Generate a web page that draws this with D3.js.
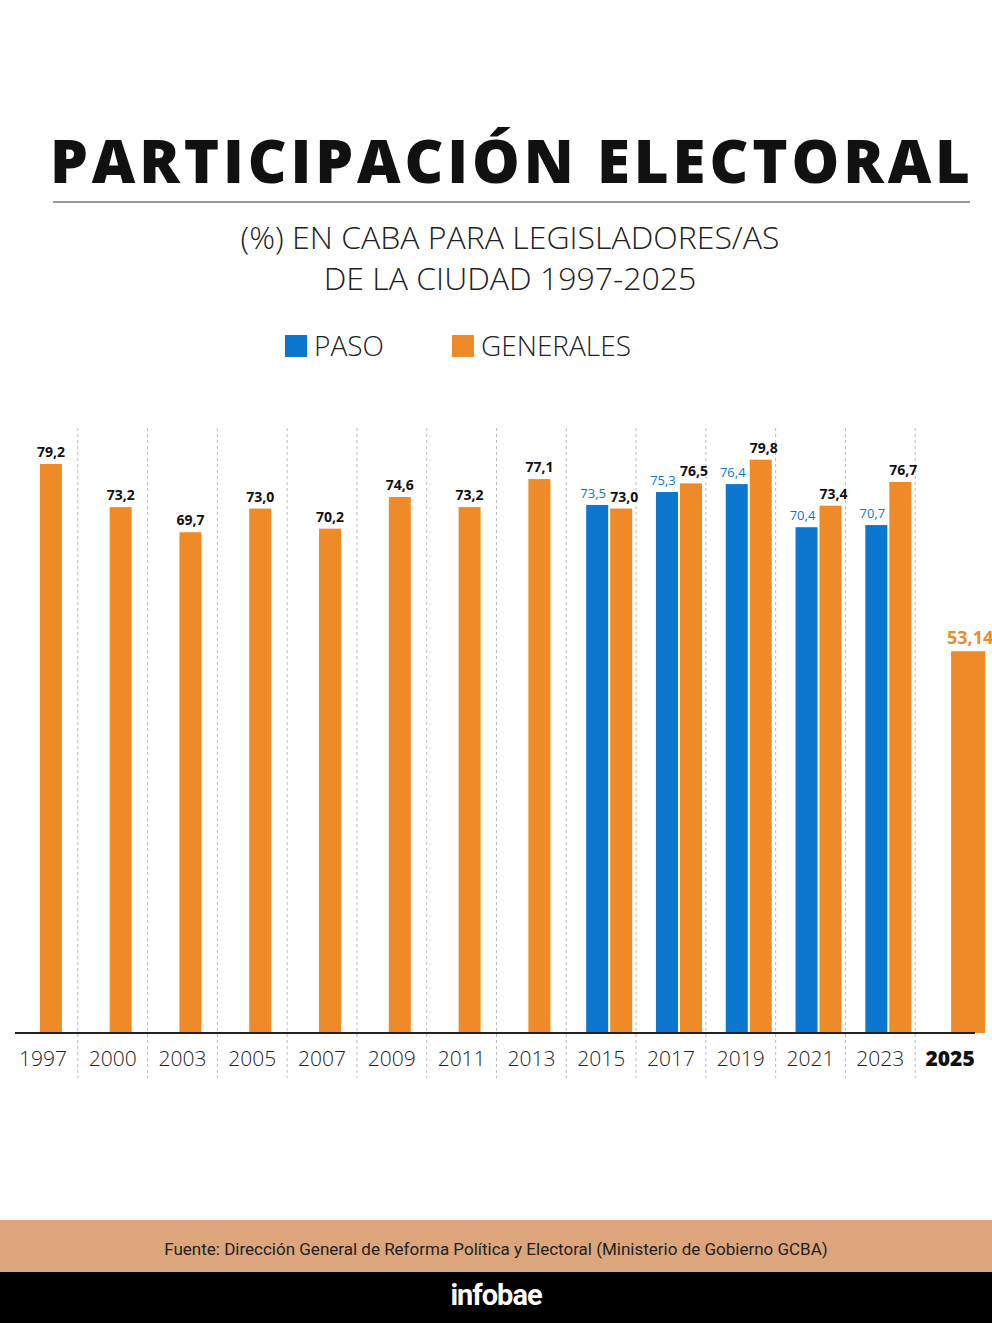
<!DOCTYPE html>
<html><head><meta charset="utf-8">
<script src="https://cdn.jsdelivr.net/npm/d3@7"></script>
<style>body{margin:0;background:#fff}</style>
</head><body>
<svg id="chart" width="992" height="1323"></svg>
<script>
var years = ["1997","2000","2003","2005","2007","2009","2011","2013","2015","2017","2019","2021","2023","2025"];
var paso = [null,null,null,null,null,null,null,null,73.5,75.3,76.4,70.4,70.7,null];
var generales = [79.2,73.2,69.7,73.0,70.2,74.6,73.2,77.1,73.0,76.5,79.8,73.4,76.7,53.14];
var genLabels = ["79,2","73,2","69,7","73,0","70,2","74,6","73,2","77,1","73,0","76,5","79,8","73,4","76,7","53,14"];
var pasoLabels = [null,null,null,null,null,null,null,null,"73,5","75,3","76,4","70,4","70,7",null];

var blue = "#0b77cf", orange = "#ee8a27";
var svg = d3.select("#chart");
var font = "'Open Sans', sans-serif";

svg.append("text").attr("x", 510).attr("y", 183).attr("text-anchor", "middle")
    .attr("font-family", font).attr("font-weight", 800).attr("font-size", 60)
    .attr("textLength", 920).attr("fill", "#111").text("PARTICIPACIÓN ELECTORAL");
svg.append("line").attr("x1", 53).attr("x2", 970).attr("y1", 202).attr("y2", 202).attr("stroke", "#333");
svg.append("text").attr("x", 510).attr("y", 249).attr("text-anchor", "middle")
    .attr("font-family", font).attr("font-weight", 300).attr("font-size", 32).attr("fill", "#222")
    .text("(%) EN CABA PARA LEGISLADORES/AS");
svg.append("text").attr("x", 510).attr("y", 290).attr("text-anchor", "middle")
    .attr("font-family", font).attr("font-weight", 300).attr("font-size", 32).attr("fill", "#222")
    .text("DE LA CIUDAD 1997-2025");

// legend
[["PASO", blue, 285], ["GENERALES", orange, 452]].forEach(function (l) {
    svg.append("rect").attr("x", l[2]).attr("y", 335).attr("width", 22).attr("height", 22).attr("fill", l[1]);
    svg.append("text").attr("x", l[2] + 29).attr("y", 356).attr("font-family", font).attr("font-weight", 300)
        .attr("font-size", 28).attr("fill", "#222").text(l[0]);
});

var x = d3.scaleBand().domain(years).range([8, 985]).padding(0);
var y = d3.scaleLinear().domain([0, 79.2]).range([1033, 464]);
var barW = 22;

var g = svg.append("g");
// separators
years.slice(0, -1).forEach(function (yr) {
    var sx = x(yr) + x.bandwidth();
    g.append("line").attr("x1", sx).attr("x2", sx).attr("y1", 428).attr("y2", 1078)
        .attr("stroke", "#bbb").attr("stroke-dasharray", "3,3");
});

years.forEach(function (yr, i) {
    var c = x(yr) + x.bandwidth() / 2 + 8;
    var w = i === years.length - 1 ? 34 : barW;
    if (paso[i] != null) {
        var bx = c - 23;
        g.append("rect").attr("x", bx).attr("y", y(paso[i])).attr("width", barW)
            .attr("height", y(0) - y(paso[i])).attr("fill", blue);
        g.append("text").attr("x", bx + 7).attr("y", y(paso[i]) - 7).attr("text-anchor", "middle")
            .attr("font-family", font).attr("font-size", 13).attr("fill", blue).text(pasoLabels[i]);
        var ox = c + 1;
        g.append("rect").attr("x", ox).attr("y", y(generales[i])).attr("width", barW)
            .attr("height", y(0) - y(generales[i])).attr("fill", orange);
        g.append("text").attr("x", ox + 14).attr("y", y(generales[i]) - 7).attr("text-anchor", "middle")
            .attr("font-family", font).attr("font-weight", 700).attr("font-size", 14).attr("fill", "#111").text(genLabels[i]);
    } else {
        var last = i === years.length - 1;
        var bx2 = last ? c - 7 : c - w / 2;
        g.append("rect").attr("x", bx2).attr("y", y(generales[i])).attr("width", w)
            .attr("height", y(0) - y(generales[i])).attr("fill", orange);
        g.append("text").attr("x", bx2 + w / 2 - (last ? -2 : 0)).attr("y", y(generales[i]) - 7).attr("text-anchor", "middle")
            .attr("font-family", font).attr("font-weight", 700).attr("font-size", last ? 18 : 14)
            .attr("fill", last ? orange : "#111").text(genLabels[i]);
    }
});

// axis
var axis = d3.axisBottom(x).tickSize(0).tickPadding(14);
var ax = svg.append("g").attr("transform", "translate(0,1033)").call(axis);
ax.select(".domain").attr("d", "M15,0H975").attr("stroke", "#222").attr("stroke-width", 2);
ax.selectAll("text").attr("font-family", font).attr("font-size", 21).attr("font-weight", 300)
    .attr("fill", "#222").attr("dy", "0.9em")
    .filter(function (d) { return d === "2025"; }).attr("font-weight", 800).attr("fill", "#111");

// footer
svg.append("rect").attr("x", 0).attr("y", 1220).attr("width", 992).attr("height", 52).attr("fill", "#dca57c");
svg.append("text").attr("x", 496).attr("y", 1255).attr("text-anchor", "middle").attr("font-family", "Roboto, sans-serif")
    .attr("font-size", 17).attr("fill", "#222")
    .text("Fuente: Dirección General de Reforma Política y Electoral (Ministerio de Gobierno GCBA)");
svg.append("rect").attr("x", 0).attr("y", 1272).attr("width", 992).attr("height", 51).attr("fill", "#000");
svg.append("text").attr("x", 496).attr("y", 1305).attr("text-anchor", "middle").attr("font-family", "Roboto, sans-serif")
    .attr("font-weight", 700).attr("font-size", 29).attr("fill", "#fff").attr("letter-spacing", -1).text("infobae");
</script>
</body></html>
